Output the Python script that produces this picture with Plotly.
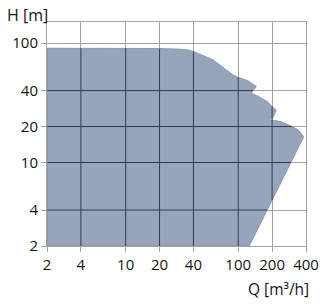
import numpy as np
import plotly.graph_objects as go

# Envelope of the pump operating range (Q in m3/h, H in m), traced clockwise
env_q = [2, 10, 20, 28.4, 34.9, 40, 52.1, 59.6, 78.2, 89.3, 98, 121, 145.2,
         129.7, 148, 181, 218, 198, 238, 282, 301, 340, 382, 125.3, 2]
env_h = [90.5, 90.5, 90, 89.1, 88, 85.1, 77.3, 72.5, 59.7, 54.2, 52.0, 48.6, 43.3,
         38.1, 36.1, 32.4, 27.2, 22.7, 22.0, 20.6, 20.0, 18.8, 16.4, 2, 2]

x_ticks = [2, 4, 10, 20, 40, 100, 200, 400]
y_ticks = [2, 4, 10, 20, 40, 100]
x_range = [2, 400]
y_range = [2, 150]

FILL = "#97a5bb"
GRID = "#a3a3a3"
DARK = "#2f3c58"
TXT = "#141414"
FONT = "Open Sans"

fig = go.Figure()
fig.add_trace(go.Scatter(x=env_q + [env_q[0]], y=env_h + [env_h[0]], mode="lines",
                         fill="toself", fillcolor=FILL,
                         line=dict(color="#7f8ea6", width=0.8),
                         hoverinfo="skip", showlegend=False))

# dark grid segments where grid lines cross the filled envelope
lq = np.log10(np.array(env_q + [env_q[0]], dtype=float))
lh = np.log10(np.array(env_h + [env_h[0]], dtype=float))


def crossings(a, b, v):
    """a: coordinate compared to v, b: other coordinate; returns b-values where polygon crosses a=v"""
    out = []
    for i in range(len(a) - 1):
        a0, a1, b0, b1 = a[i], a[i + 1], b[i], b[i + 1]
        if a0 == a1:
            continue
        if (a0 <= v < a1) or (a1 <= v < a0):
            t = (v - a0) / (a1 - a0)
            out.append(b0 + t * (b1 - b0))
    return sorted(out)


sx, sy = [], []
for v in x_ticks[1:-1]:
    c = crossings(lq, lh, np.log10(v))
    for k in range(0, len(c) - 1, 2):
        sx += [v, v, None]
        sy += [10 ** c[k], 10 ** c[k + 1], None]
for v in y_ticks[1:]:
    c = crossings(lh, lq, np.log10(v))
    for k in range(0, len(c) - 1, 2):
        sx += [10 ** c[k], 10 ** c[k + 1], None]
        sy += [v, v, None]

fig.add_trace(go.Scatter(x=sx, y=sy, mode="lines", line=dict(color=DARK, width=1),
                         hoverinfo="skip", showlegend=False))

axis_common = dict(type="log", showgrid=True, gridcolor=GRID, gridwidth=1,
                   showline=True, linecolor=GRID, linewidth=1, mirror=True,
                   ticks="outside", ticklen=5, tickcolor=GRID, tickwidth=1,
                   tickfont=dict(family=FONT, size=15, color=TXT), zeroline=False)

fig.update_xaxes(range=[np.log10(x_range[0]), np.log10(x_range[1])],
                 tickvals=x_ticks, ticktext=[str(t) for t in x_ticks], **axis_common)
fig.update_yaxes(range=[np.log10(y_range[0]), np.log10(y_range[1])],
                 tickvals=y_ticks, ticktext=[str(t) for t in y_ticks], **axis_common)

fig.add_annotation(text="H [m]", xref="paper", yref="paper", x=-0.163, y=1.033,
                   xanchor="left", yanchor="middle", showarrow=False,
                   font=dict(family=FONT, size=16, color=TXT))
fig.add_annotation(text="Q [m³/h]", xref="paper", yref="paper", x=1.018, y=-0.194,
                   xanchor="right", yanchor="middle", showarrow=False,
                   font=dict(family=FONT, size=15.5, color=TXT))

fig.update_layout(width=331, height=305, margin=dict(l=46, r=24, t=22, b=59),
                  plot_bgcolor="white", paper_bgcolor="white")

fig.write_html("out.html")
